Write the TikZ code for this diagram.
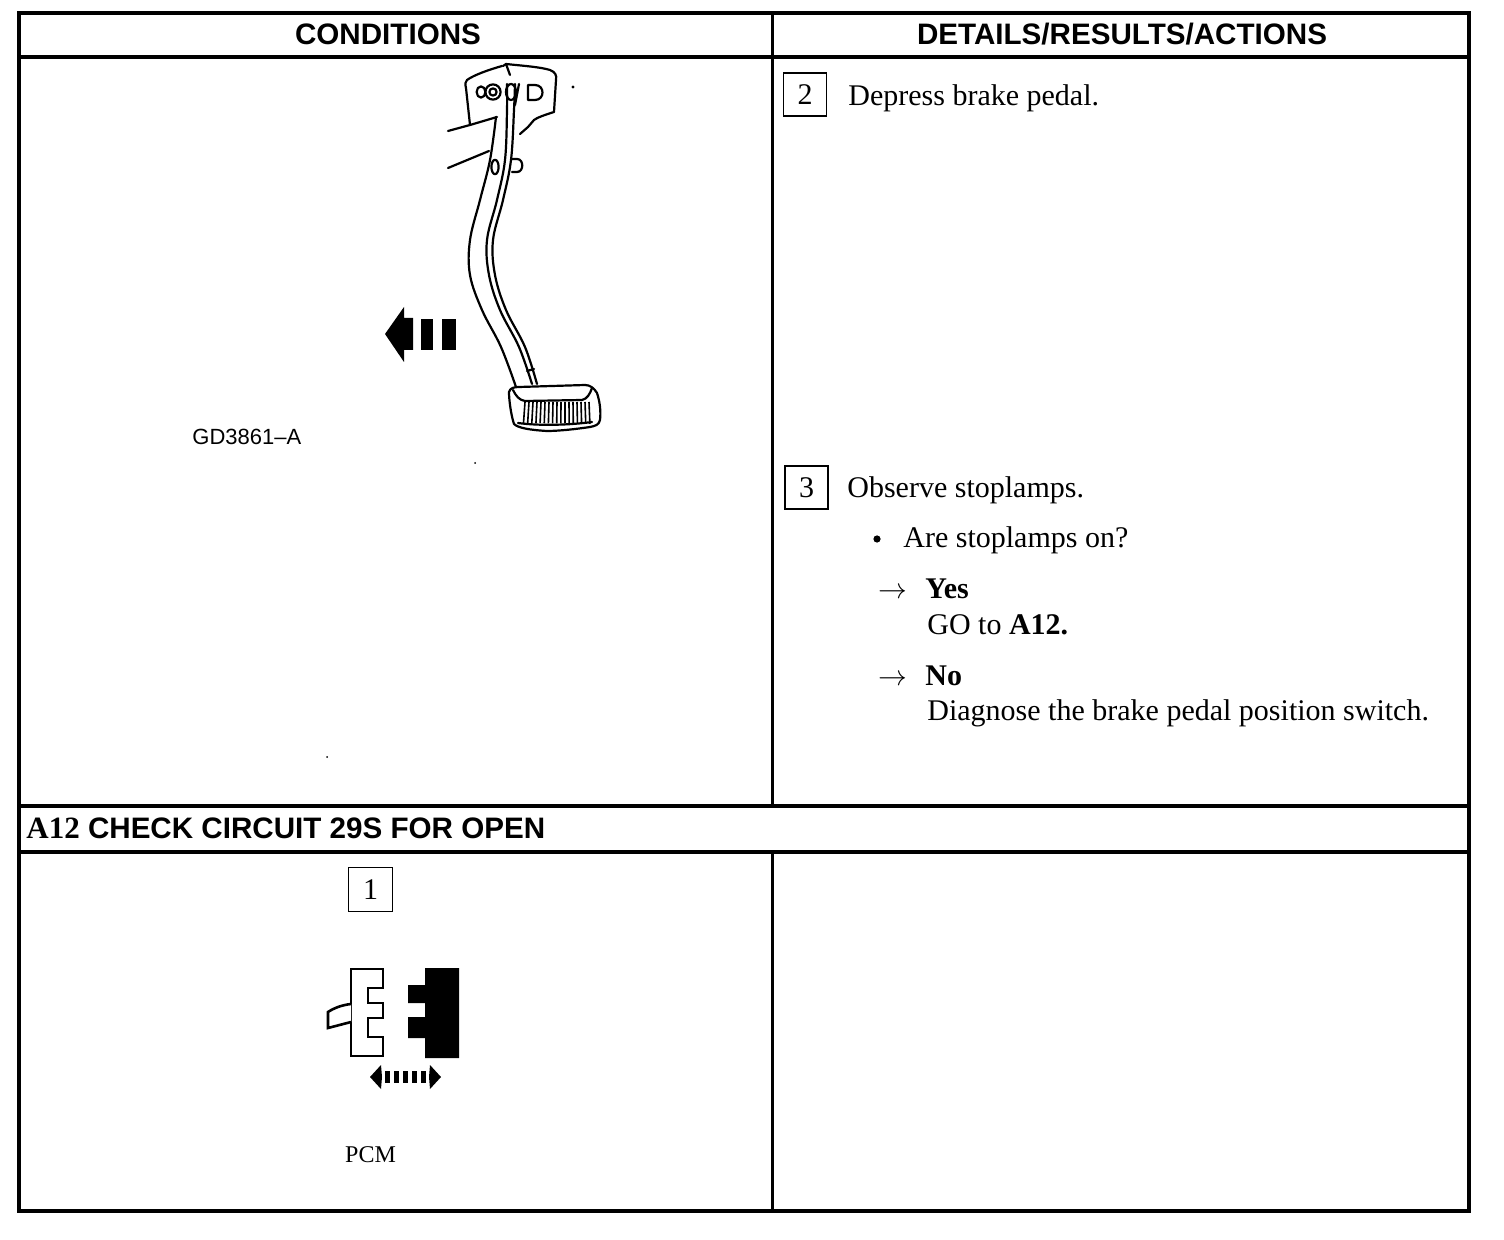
\documentclass[tikz,border=0pt]{standalone}
\usepackage{fontspec}
\setmainfont{Liberation Serif}
\setsansfont{Liberation Sans}
\begin{document}
\begin{tikzpicture}[x=0.5pt,y=-0.5pt,
  body/.style={font=\fontsize{15}{18}\selectfont, inner sep=0pt, anchor=base west},
  bodyb/.style={body, font=\fontsize{15}{18}\selectfont\bfseries},
  hdr/.style={font=\sffamily\bfseries\fontsize{14.8}{18}\selectfont, inner sep=0pt, anchor=base},
  numbox/.style={draw, line width=0.9pt, minimum width=21.5pt, minimum height=21.5pt, inner sep=0pt, font=\fontsize{15}{18}\selectfont},
  outer/.style={line width=2pt},
  inner/.style={line width=1.7pt},
  art/.style={line width=1.1pt, line join=round, line cap=round},
  conn/.style={line width=1.3pt, line join=miter}
]
\useasboundingbox (0,0) rectangle (1504,1240);
\fill[white] (0,0) rectangle (1504,1240);

% ---------- table ----------
\draw[outer] (19,13) rectangle (1469,1211);
\draw[inner] (19,57) -- (1469,57);
\draw[inner] (19,806) -- (1469,806);
\draw[inner] (19,852) -- (1469,852);
\draw[line width=1.5pt] (772,13) -- (772,806);
\draw[line width=1.5pt] (772,852) -- (772,1211);

\node[hdr] (hcond) at (388,45) {CONDITIONS};
\node[hdr] (hdet) at (1122,45) {DETAILS/RESULTS/ACTIONS};
\node[hdr, anchor=base west] (ha12) at (26,838) {{\rmfamily\bfseries\fontsize{15.5}{18}\selectfont A12} CHECK CIRCUIT 29S FOR OPEN};

% ---------- right column texts ----------
\node[numbox] (b2) at (805,94.5) {2};
\node[body] (t2) at (848,106) {Depress brake pedal.};
\node[numbox] (b3) at (806.5,487.5) {3};
\node[body] (t3) at (847,498) {Observe stoplamps.};
\node[circle, fill, inner sep=0pt, minimum size=3.6pt] (bul) at (877,539) {};
\node[body] (q) at (903,548) {Are stoplamps on?};
\node[body] (ar1) at (878,598) {$\rightarrow$};
\node[bodyb] (yes) at (925,598) {Yes};
\node[body] (go) at (927,634) {GO to \textbf{A12.}};
\node[body] (ar2) at (878,685) {$\rightarrow$};
\node[bodyb] (no) at (925,685) {No};
\node[body] (diag) at (927,720) {Diagnose the brake pedal position switch.};

% ---------- pedal illustration ----------
\node[font=\sffamily\fontsize{11}{13}\selectfont, inner sep=0pt, anchor=base west] (gd) at (192,445) {GD3861–A};

% mounting plate and side lines
\draw[art] (502,66) .. controls (488,70) and (474,75) .. (467,80)
   .. controls (465,82) and (465,84) .. (466,88) -- (470,125);
\draw[art] (448,131) -- (470,125) -- (497,117);
\draw[art] (448,168) -- (489,151);
% bracket (U channel)
\draw[art] (503,66) -- (506,64) .. controls (525,66) and (540,67) .. (550,70)
   .. controls (555,72) and (557,75) .. (556,80) -- (554,112)
   .. controls (545,115) and (538,117) .. (534,120) -- (528,127) -- (520,134);
\draw[art] (506,64) -- (510,75);
% nut, washer, pivot
\draw[art] (493,92) circle[radius=3.8pt];
\draw[art] (493,92) circle[radius=1.8pt];
\draw[art] (481,92) ellipse[x radius=2.2pt, y radius=2.8pt];
\draw[art] (511,92) ellipse[x radius=2.5pt, y radius=4pt];
% D tab at top
\draw[art] (528,85) -- (535,85) .. controls (545,85) and (545,100) .. (535,100) -- (528,100) -- cycle;
% arm
\draw[art] plot[smooth, tension=0.6] coordinates {(496,117) (490,160) (480,200) (470,240) (470,275) (482,310) (501,347) (516,387)};
\draw[art] plot[smooth, tension=0.6] coordinates {(507,84) (507,110) (505,160) (497,200) (487,240) (489,275) (500,310) (519,347) (532,384)};
\draw[art] plot[smooth, tension=0.6] coordinates {(515,84) (514,110) (511,160) (503,200) (493,240) (495,275) (506,310) (525,347) (537,384)};
\draw[art] (519,84) -- (515,105);
% hole and small tab on arm
\draw[art] (495,167) ellipse[x radius=1.8pt, y radius=3.6pt];
\draw[art] (512,159) -- (517,159) .. controls (524,159) and (524,172) .. (517,172) -- (512,172);
% cross bar near the bottom
\draw[art] (527,371) -- (534,369);
% pedal pad
\draw[art] (509,392) .. controls (510,388) and (514,387) .. (519,387)
   -- (585,385) .. controls (590,385) and (594,388) .. (597,393)
   .. controls (600,402) and (601,412) .. (600,420)
   .. controls (599,425) and (595,426) .. (590,427)
   .. controls (570,430) and (555,431) .. (547,431)
   .. controls (530,430) and (518,428) .. (514,424)
   .. controls (511,415) and (509,400) .. (509,392) -- cycle;
\draw[art] (513,390) .. controls (516,396) and (519,400) .. (525,401)
   -- (582,400) .. controls (587,399) and (590,394) .. (592,388);
\draw[art] (518,423) .. controls (540,426) and (570,425) .. (592,422);
\foreach \i in {0,...,16}{
  \draw[line width=0.8pt] ({525+4*\i},402) -- ({523.5+4.15*\i},{423+0.05*\i});
}
% big arrow pointing left
\fill (385,334) -- (404,307) -- (404,318) -- (413,318) -- (413,350) -- (404,350) -- (404,362) -- cycle;
\fill (421,319) rectangle (433,350);
\fill (442,319) rectangle (456,350);
% specks
\fill (573,87) circle[radius=0.8pt];
\fill (475,463) circle[radius=0.5pt];
\fill (327,757) circle[radius=0.5pt];

% ---------- A12 step 1 connector ----------
\node[numbox, minimum width=22pt, minimum height=22pt] (b1) at (370.5,889.5) {1};
\draw[conn, fill=white] (351,969) -- (383,969) -- (383,988) -- (368,988) -- (368,1003)
  -- (383,1003) -- (383,1018) -- (368,1018) -- (368,1037) -- (383,1037) -- (383,1056)
  -- (351,1056) -- cycle;
\draw[conn, fill=white] (351,1004) .. controls (342,1005) and (334,1008) .. (328,1012)
  -- (328,1028) -- (351,1022);
\fill (425,968) -- (459,968) -- (459,1058) -- (425,1058) -- (425,1038) -- (408,1038)
  -- (408,1017) -- (425,1017) -- (425,1003) -- (408,1003) -- (408,985) -- (425,985) -- cycle;
% double arrow
\fill (370,1077) -- (381,1065) -- (382,1077) -- (381,1089) -- cycle;
\fill (441,1077) -- (430,1065) -- (429,1077) -- (430,1089) -- cycle;
\foreach \i in {0,...,4}{
  \fill ({384.5+9*\i},1071) rectangle ({390+9*\i},1083);
}
\node[font=\fontsize{12}{14}\selectfont, inner sep=0pt, anchor=base] (pcm) at (370.5,1162) {PCM};
\end{tikzpicture}
\end{document}
